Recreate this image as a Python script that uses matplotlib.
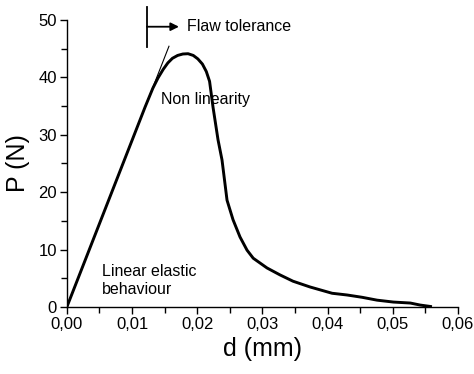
import matplotlib
matplotlib.use("Agg")
import matplotlib.pyplot as plt
from matplotlib.ticker import MultipleLocator, FuncFormatter

# load-displacement curve
d_mm = [0.0, 0.005, 0.010, 0.0120, 0.0132, 0.0140, 0.0148, 0.0155, 0.0162,
        0.0170, 0.0178, 0.0186, 0.0194, 0.0201, 0.0208, 0.0214, 0.0219,
        0.02243, 0.02320, 0.02381, 0.02458, 0.02550,
        0.02657, 0.02765, 0.02860, 0.03072, 0.03270, 0.0347, 0.0373, 0.0407,
        0.0430, 0.0453, 0.0476, 0.0501, 0.0527, 0.0542, 0.0558]
P_N = [0.0, 14.5, 29.0, 34.8, 38.1, 39.9, 41.4, 42.5, 43.3,
       43.8, 44.05, 44.1, 43.8, 43.2, 42.3, 41.0, 39.3,
       34.8, 29.1, 25.6, 18.6, 15.2,
       12.2, 9.9, 8.5, 6.8, 5.6, 4.5, 3.5, 2.4,
       2.1, 1.7, 1.2, 0.87, 0.7, 0.35, 0.1]

# linear elastic tangent
tangent_d = [0.0, 0.01567]
tangent_P = [0.0, 45.4]

plt.rcParams['font.family'] = ['Liberation Sans', 'DejaVu Sans']

fig = plt.figure(figsize=(4.74, 3.74), dpi=100)
ax = fig.add_axes([0.141, 0.179, 0.825, 0.768])

ax.plot(d_mm, P_N, color="black", lw=2.1, solid_joinstyle="round")
ax.plot(tangent_d, tangent_P, color="black", lw=0.8)

ax.set_xlim(0, 0.06)
ax.set_ylim(0, 50)
ax.spines['top'].set_visible(False)
ax.spines['right'].set_visible(False)
ax.spines['left'].set_linewidth(1.0)
ax.spines['bottom'].set_linewidth(1.0)

ax.xaxis.set_major_locator(MultipleLocator(0.01))
ax.xaxis.set_minor_locator(MultipleLocator(0.005))
ax.yaxis.set_major_locator(MultipleLocator(10))
ax.yaxis.set_minor_locator(MultipleLocator(5))
ax.xaxis.set_major_formatter(FuncFormatter(lambda v, p: f"{v:.2f}".replace(".", ",")))
ax.tick_params(which="major", direction="out", length=5, width=1.0, labelsize=12, pad=2)
ax.tick_params(which="minor", direction="out", length=4, width=1.0)

ax.set_xlabel("d (mm)", fontsize=18, labelpad=4)
ax.set_ylabel("P (N)", fontsize=18, labelpad=6)

# annotations
ax.plot([0.01229, 0.01229], [45.3, 52.3], color="black", lw=1.3, clip_on=False)
ax.annotate("", xy=(0.0172, 48.8), xytext=(0.01229, 48.8),
            arrowprops=dict(arrowstyle="-|>", color="black", lw=1.3,
                            mutation_scale=12, shrinkA=0, shrinkB=0),
            annotation_clip=False)
ax.text(0.01843, 48.8, "Flaw tolerance", fontsize=11.5, va="center", ha="left")
ax.text(0.01444, 36.2, "Non linearity", fontsize=11.5, va="center", ha="left")
ax.text(0.00538, 4.7, "Linear elastic\nbehaviour", fontsize=11.5, va="center",
        ha="left", linespacing=1.25)

fig.savefig("out.png", dpi=100)
